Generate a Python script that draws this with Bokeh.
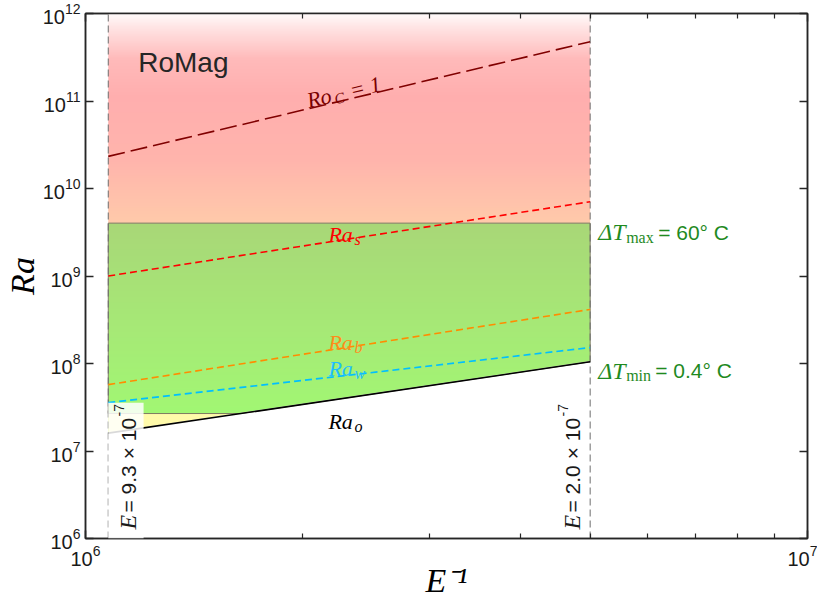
import math
import numpy as np
from bokeh.plotting import figure
from bokeh.models import (LogAxis, FixedTicker, LogTickFormatter, CustomJSTickFormatter,
                          Label, BoxAnnotation)
from bokeh.embed import file_html
from bokeh.resources import INLINE

# Ekman numbers at the two bounding (dashed) lines, and their inverses on the x axis
ekman_bounds = [9.3e-7, 2.0e-7]
inv_ekman = [1.0 / e for e in ekman_bounds]

# Rayleigh number of each regime boundary at the left / right Ekman bounds
ra_roc = [2.33e10, 4.76e11]   # Ro_C = 1
ra_s = [1.0e9, 7.06e9]
ra_b = [5.73e7, 4.15e8]
ra_w = [3.57e7, 1.52e8]
ra_o = [1.6e7, 1.045e8]

# Temperature contrasts and the Rayleigh numbers they give
delta_t = [0.4, 60]
ra_delta_t = [2.68e7, 4.02e9]

x_limits = [1e6, 1e7]
y_limits = [1e6, 1e12]
x_ticks = [1e6, 1e7]
x_minor_ticks = [2e6, 3e6, 4e6, 5e6, 6e6, 7e6, 8e6, 9e6]
y_ticks = [1e6, 1e7, 1e8, 1e9, 1e10, 1e11, 1e12]

# ---------------------------------------------------------------- layout
W, H = 817, 607
B_LEFT, B_RIGHT, B_TOP, B_BOTTOM = 85, 10, 13, 69
FRAME_W = W - B_LEFT - B_RIGHT
FRAME_H = H - B_TOP - B_BOTTOM
SERIF = "Liberation Serif"
SANS = "Liberation Sans"
AXIS_COLOR = "#262626"

p = figure(width=W, height=H, x_axis_type="log", y_axis_type="log",
           x_range=tuple(x_limits), y_range=tuple(y_limits),
           output_backend="svg", toolbar_location=None,
           min_border_left=B_LEFT, min_border_right=B_RIGHT,
           min_border_top=B_TOP, min_border_bottom=B_BOTTOM)
p.grid.visible = False
p.outline_line_color = AXIS_COLOR
p.outline_line_width = 1.5
p.background_fill_color = "white"
p.border_fill_color = "white"

x_ticker = FixedTicker(ticks=x_ticks, minor_ticks=x_minor_ticks)
y_ticker = FixedTicker(ticks=y_ticks)


def style_axis(ax, labels=True):
    ax.axis_line_color = AXIS_COLOR
    ax.axis_line_width = 1.5
    ax.major_tick_line_color = AXIS_COLOR
    ax.major_tick_line_width = 1.5
    ax.minor_tick_line_color = AXIS_COLOR
    ax.minor_tick_line_width = 1.2
    ax.major_tick_in = 8
    ax.major_tick_out = 0
    ax.minor_tick_in = 5
    ax.minor_tick_out = 0
    ax.major_label_text_font = SANS
    ax.major_label_text_font_size = "20px"
    ax.major_label_text_color = "#1a1a1a"
    ax.axis_label_text_font = SERIF
    ax.axis_label_text_font_style = "italic"
    ax.axis_label_text_font_size = "34px"
    ax.axis_label_text_color = "black"
    if not labels:
        ax.formatter = CustomJSTickFormatter(code="return ''")
        ax.major_label_standoff = 0


p.xaxis.ticker = x_ticker
p.xaxis.formatter = LogTickFormatter()
p.yaxis.ticker = y_ticker
p.yaxis.formatter = LogTickFormatter()
style_axis(p.xaxis[0])
style_axis(p.yaxis[0])
p.xaxis.major_label_standoff = 6
p.yaxis.major_label_standoff = 5
p.yaxis.minor_tick_line_color = None
p.xaxis.axis_label = "E\u207b\u00b9"
p.xaxis.axis_label_standoff = -7
p.yaxis.axis_label = "Ra"
p.yaxis.axis_label_standoff = -1

top_axis = LogAxis(ticker=x_ticker)
right_axis = LogAxis(ticker=y_ticker)
style_axis(top_axis, labels=False)
style_axis(right_axis, labels=False)
right_axis.minor_tick_line_color = None
p.add_layout(top_axis, "above")
p.add_layout(right_axis, "right")


# ---------------------------------------------------------------- helpers
def log_interp(xs, ys, x):
    lx0, lx1 = math.log10(xs[0]), math.log10(xs[1])
    ly0, ly1 = math.log10(ys[0]), math.log10(ys[1])
    t = (math.log10(x) - lx0) / (lx1 - lx0)
    return 10 ** (ly0 + t * (ly1 - ly0))


def screen_angle(xs, ys):
    dx = FRAME_W * (math.log10(xs[1]) - math.log10(xs[0])) / (math.log10(x_limits[1]) - math.log10(x_limits[0]))
    dy = FRAME_H * (math.log10(ys[1]) - math.log10(ys[0])) / (math.log10(y_limits[1]) - math.log10(y_limits[0]))
    return math.atan2(dy, dx)


def blend(stops, t):
    for (t0, c0), (t1, c1) in zip(stops[:-1], stops[1:]):
        if t <= t1:
            u = (t - t0) / (t1 - t0) if t1 > t0 else 0
            return [a + u * (b - a) for a, b in zip(c0, c1)]
    return list(stops[-1][1])


def gradient_band(y_bottom, y_top, stops, rows=400):
    # smooth vertical gradient image spanning the band; stop t = 0 is the top edge
    img = np.zeros((rows, 2), dtype=np.uint32)
    view = img.view(dtype=np.uint8).reshape((rows, 2, 4))
    for r in range(rows):
        rgb = blend(stops, 1 - (r + 0.5) / rows)
        view[r, :, 0:3] = [int(round(v)) for v in rgb]
        view[r, :, 3] = 255
    p.image_rgba(image=[img], x=inv_ekman[0], y=y_bottom,
                 dw=inv_ekman[1] - inv_ekman[0], dh=y_top - y_bottom)


def add_text(x, y, text, along=0.0, across=0.0, angle=0.0, **style):
    # along / across are pixel shifts parallel and perpendicular to the text direction
    c, s = math.cos(angle), math.sin(angle)
    style.setdefault("text_baseline", "alphabetic")
    style.setdefault("text_align", "left")
    p.add_layout(Label(x=x, y=y, text=text, angle=angle,
                       x_offset=along * c - across * s, y_offset=along * s + across * c,
                       **style))


# ---------------------------------------------------------------- regions
ra_min, ra_max = ra_delta_t
x_left, x_right = inv_ekman

green_stops = [(0.0, (168, 215, 119)), (0.5, (166, 233, 118)), (1.0, (160, 250, 114))]
gradient_band(ra_o[0], ra_max, green_stops)

# where the onset curve meets the minimum-contrast Rayleigh number
t_cross = (math.log10(ra_min) - math.log10(ra_o[0])) / (math.log10(ra_o[1]) - math.log10(ra_o[0]))
x_cross = 10 ** (math.log10(x_left) + t_cross * (math.log10(x_right) - math.log10(x_left)))

p.patch([x_left, x_left, x_cross], [ra_o[0], ra_min, ra_min],
        fill_color="#fffaaa", line_color=None)
p.patch([x_left, x_right, x_right], [ra_o[0], ra_o[1], ra_o[0]],
        fill_color="white", line_color="white", line_width=1.5)

red_stops = [(0.0, (255, 252, 252)), (0.07, (255, 228, 228)), (0.22, (255, 186, 186)),
             (0.4, (255, 174, 174)), (0.7, (255, 180, 172)), (1.0, (255, 202, 170))]
gradient_band(ra_max, y_limits[1], red_stops)

# outline of the accessible (green) domain
p.patch([x_left, x_left, x_right, x_right, x_cross],
        [ra_min, ra_max, ra_max, ra_o[1], ra_min],
        fill_color=None, line_color="#7d7a62", line_width=1)

# Ekman bounds
p.segment(x0=inv_ekman, y0=[y_limits[0]] * 2, x1=inv_ekman, y1=[y_limits[1]] * 2,
          line_color="#6e6e6e", line_width=1, line_dash="7 4")

# ---------------------------------------------------------------- regime lines
p.line(inv_ekman, ra_roc, line_color="#800000", line_width=1.6, line_dash="17 6")
p.line(inv_ekman, ra_s, line_color="#ff0000", line_width=1.6, line_dash="7 4")
p.line(inv_ekman, ra_b, line_color="#ff8c00", line_width=1.6, line_dash="7 4")
p.line(inv_ekman, ra_w, line_color="#00bfff", line_width=1.6, line_dash="7 4")
p.line(inv_ekman, ra_o, line_color="black", line_width=1.6)

# translucent backing of the left Ekman label
p.add_layout(BoxAnnotation(left=x_left, right=1.2035e6, bottom=y_limits[0], top=ra_w[0],
                           fill_color="white", fill_alpha=0.85, line_color=None))

# ---------------------------------------------------------------- labels
it_serif = dict(text_font=SERIF, text_font_style="italic")

# Ro_C = 1 along its line
x_lab = 2.04e6
ang = screen_angle(inv_ekman, ra_roc)
y_lab = log_interp(inv_ekman, ra_roc, x_lab)
roc_color = "#7a0000"
add_text(x_lab, y_lab, "Ro", 0, 8, ang, text_color=roc_color, text_font_size="22px", **it_serif)
add_text(x_lab, y_lab, "C", 27, 3, ang, text_color=roc_color, text_font_size="15px", **it_serif)
add_text(x_lab, y_lab, "= 1", 44, 8, ang, text_color=roc_color, text_font_size="22px", **it_serif)

# Ra_s, Ra_b, Ra_w above their lines, Ra_o below
x_ra = 2.17e6
for ys, sub, color, shift in [(ra_s, "s", "#ff0000", 8), (ra_b, "b", "#ff8c1a", 8),
                               (ra_w, "w", "#1ebeff", 9), (ra_o, "o", "black", -21)]:
    y_here = log_interp(inv_ekman, ys, x_ra)
    add_text(x_ra, y_here, "Ra", 0, shift, text_color=color, text_font_size="22px", **it_serif)
    add_text(x_ra, y_here, sub, 26, shift - 5, text_color=color, text_font_size="16px", **it_serif)

# RoMag
add_text(x_left, y_limits[1], "RoMag", 30, -49, text_color="#262626",
         text_font=SANS, text_font_size="28px")

# temperature contrast labels to the right of the domain
green_txt = "#1f8a1f"
for y_anchor, sub, val, sub_w in [(ra_max, "max", delta_t[1], 60), (ra_o[1], "min", delta_t[0], 57)]:
    add_text(x_right, y_anchor, "\u0394T", 8, -9, text_color=green_txt, text_font_size="24px", **it_serif)
    add_text(x_right, y_anchor, sub, 8 + 28, -14, text_color=green_txt, text_font=SERIF,
             text_font_size="16px")
    add_text(x_right, y_anchor, "= %g\u00b0 C" % val, 8 + sub_w, -9, text_color=green_txt,
             text_font=SANS, text_font_size="21px")

# Ekman values written up along the dashed bounds
up = math.pi / 2
for x_b, e_val, across in [(x_left, ekman_bounds[0], 20), (x_right, ekman_bounds[1], -18)]:
    expo = int(math.floor(math.log10(e_val)))
    mant = e_val / 10 ** expo
    base = y_limits[0]
    c_kw = dict(text_color="#1a1a1a")
    # text runs upwards; its baseline sits `across` pixels right of the line
    p.add_layout(Label(x=x_b, y=base, text="E", angle=up, x_offset=across, y_offset=9,
                       text_baseline="alphabetic", text_font_size="24px", **c_kw, **it_serif))
    p.add_layout(Label(x=x_b, y=base, text="= %.1f \u00d7 10" % mant, angle=up,
                       x_offset=across, y_offset=9 + 17, text_baseline="alphabetic",
                       text_font=SANS, text_font_size="21px", **c_kw))
    p.add_layout(Label(x=x_b, y=base, text="%d" % expo, angle=up,
                       x_offset=across - 9, y_offset=9 + 17 + 96, text_baseline="alphabetic",
                       text_font=SANS, text_font_size="14px", **c_kw))

open("out.html", "w").write(file_html(p, INLINE))
